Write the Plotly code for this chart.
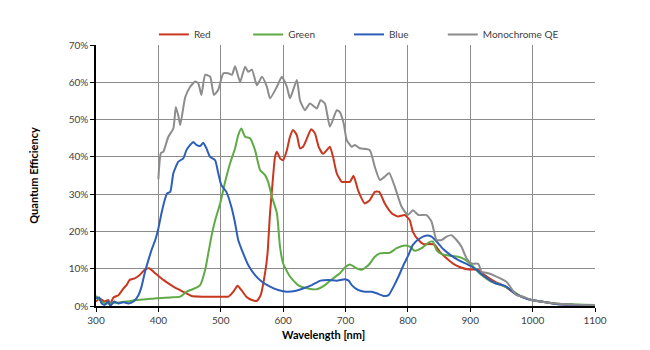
import plotly.graph_objects as go

# Monochrome QE
mono_wl = [400, 404, 408, 416, 424, 428, 432, 435, 443, 451, 459, 464, 469, 475, 483, 489, 496, 504, 512, 518, 523, 531, 539, 544, 550, 558, 566, 574, 579, 590, 598, 606, 611, 622, 627, 635, 643, 654, 660, 667, 675, 686, 691, 697, 702, 710, 715, 723, 739, 747, 755, 763, 770, 779, 790, 800, 808, 817, 830, 838, 846, 854, 862, 870, 878, 886, 894, 902, 913, 918, 929, 942, 958, 966, 974, 985, 998, 1025, 1052, 1100]
mono_qe = [34, 41, 41.4, 45.4, 47.6, 53.4, 51, 48.5, 56, 58.8, 60.2, 59.7, 56.6, 62, 61.5, 56.6, 58, 62.4, 62.4, 62, 64.3, 60.1, 64.2, 62.8, 63.4, 59.2, 61.5, 58.8, 55.7, 58.8, 61.5, 58.8, 55.7, 60.6, 55.2, 52.5, 54.3, 53, 55.2, 54.3, 48.1, 52.5, 52, 49, 44.5, 42.7, 43.2, 42.3, 41.8, 37.3, 33.8, 34.7, 35.7, 32, 26.6, 24.4, 25.7, 24.4, 24.4, 22.6, 17.7, 17.7, 18.6, 19, 17.7, 15.9, 12.8, 11.4, 11.3, 9.2, 8.8, 7.9, 6.5, 4.7, 2.9, 2.5, 1.6, 0.9, 0.5, 0.2]

red_wl = [300, 306, 314, 320, 322, 328, 336, 344, 349, 354, 362, 370, 378, 385, 395, 408, 424, 440, 453, 472, 499, 512, 520, 527, 533, 541, 550, 558, 564, 571, 575, 579, 583, 587, 590, 595, 600, 606, 611, 616, 622, 627, 632, 638, 645, 651, 657, 664, 670, 675, 680, 686, 694, 699, 707, 713, 720, 731, 739, 747, 754, 763, 774, 784, 795, 803, 808, 817, 825, 835, 843, 851, 862, 873, 884, 897, 913, 923, 940, 956, 971, 985, 998, 1014, 1041, 1068, 1100]
red_qe = [1.2, 2, 1.2, 1.6, 0.3, 2.3, 2.9, 4.7, 5.6, 7, 7.4, 8.3, 9.7, 10.1, 8.8, 7, 5.2, 3.8, 2.7, 2.5, 2.5, 2.5, 3.8, 5.4, 4.3, 2.5, 1.6, 1.4, 2.9, 8.8, 14.1, 24.9, 32.9, 40, 41.4, 39.6, 39.1, 41.8, 45.4, 47.2, 45.8, 42.3, 42.7, 44.9, 47.4, 46.3, 42.7, 40.8, 41.8, 42.7, 40, 35.6, 33.3, 33.3, 33.3, 34.9, 31.1, 27.5, 28.4, 30.6, 30.6, 27.5, 24.9, 24, 24.4, 23, 19.9, 17.7, 16.6, 16.6, 16.4, 14.6, 12.8, 11.3, 10.4, 9.8, 9.7, 8.3, 6.5, 5.2, 3.4, 2.3, 1.6, 1.2, 0.5, 0.3, 0.1]

green_wl = [300, 306, 314, 322, 333, 349, 365, 381, 397, 419, 435, 445, 461, 467, 475, 480, 485, 491, 499, 507, 515, 523, 528, 533, 539, 547, 555, 563, 571, 576, 582, 590, 595, 600, 611, 624, 640, 654, 667, 680, 691, 699, 707, 718, 726, 737, 747, 755, 771, 782, 795, 803, 811, 822, 833, 840, 846, 854, 867, 881, 891, 902, 918, 934, 950, 966, 982, 998, 1014, 1041, 1068, 1100]
green_qe = [2.7, 1.6, 0.7, 0.7, 0.9, 1.2, 1.6, 1.8, 2.1, 2.3, 2.5, 3.8, 4.9, 5.6, 9.7, 14.1, 18.6, 23, 27.5, 33.3, 38.3, 42.3, 45.8, 47.6, 45.4, 45, 41.8, 36.5, 35.1, 33.3, 29.3, 24.9, 15.9, 11.4, 7.9, 5.6, 4.7, 4.5, 5.6, 7.4, 8.8, 10.3, 11.1, 10.1, 9.7, 11, 13.2, 14.1, 14.3, 15.5, 16.2, 15.9, 14.8, 15.5, 17, 17.3, 15, 13.9, 13.5, 13.2, 12.5, 11, 8.3, 6.5, 5.6, 4.3, 2.5, 1.6, 1.2, 0.6, 0.4, 0.3]

blue_wl = [300, 305, 309, 314, 320, 323, 329, 336, 344, 352, 360, 368, 373, 378, 384, 389, 395, 400, 405, 411, 414, 419, 424, 432, 440, 445, 451, 456, 461, 467, 472, 477, 483, 491, 496, 501, 509, 517, 523, 528, 536, 544, 555, 566, 579, 592, 606, 619, 632, 646, 660, 672, 686, 699, 705, 710, 720, 731, 742, 750, 761, 769, 777, 785, 793, 801, 808, 819, 830, 838, 846, 857, 868, 881, 894, 907, 923, 940, 956, 971, 993, 1014, 1041, 1068, 1100]
blue_qe = [2, 2.3, 0.7, 0.3, 1.2, 0, 1.2, 0.7, 1, 0.7, 1.2, 2.9, 5.2, 8.8, 12.3, 15, 17.7, 20.8, 24.9, 28.9, 30.2, 30.6, 35.6, 38.7, 39.6, 41.8, 43.2, 44, 43.2, 42.9, 43.8, 42.3, 40, 39.1, 35.6, 32.4, 30.6, 26.6, 22.2, 17.7, 14.1, 11, 8.3, 6.5, 5.2, 4.3, 3.8, 4, 4.7, 5.6, 6.8, 7, 6.8, 7.2, 6.8, 5.6, 4.3, 3.8, 3.8, 3.4, 2.7, 2.9, 5.2, 7.9, 11, 13.7, 16.4, 18.1, 18.9, 18.6, 17.3, 15.2, 13.7, 12.3, 11.3, 10.1, 7.9, 6.1, 5.4, 3.4, 1.8, 1.2, 0.5, 0.3, 0.1]

x_ticks = [300, 400, 500, 600, 700, 800, 900, 1000, 1100]
y_ticks = [0, 10, 20, 30, 40, 50, 60, 70]

FONT = "Lato"
series = [
    ("Red", red_wl, red_qe, "rgb(200,55,30)", "legend", 0.116),
    ("Green", green_wl, green_qe, "rgb(95,170,70)", "legend2", 0.305),
    ("Blue", blue_wl, blue_qe, "rgb(45,95,185)", "legend3", 0.507),
    ("Monochrome QE", mono_wl, mono_qe, "rgb(140,140,140)", "legend4", 0.695),
]

fig = go.Figure()
legends = {}
for name, xs, ys, col, lg, lx in series:
    fig.add_trace(go.Scatter(
        x=xs, y=[v / 100 for v in ys], name=name, mode="lines", legend=lg,
        line=dict(color=col, width=2, shape="spline", smoothing=0.5),
    ))
    legends[lg] = dict(orientation="h", x=lx, y=0.985, xanchor="left", yanchor="bottom",
                       itemwidth=30, font=dict(family=FONT, size=10, color="#404040"),
                       bgcolor="rgba(0,0,0,0)")

fig.update_layout(
    width=650, height=350,
    margin=dict(l=96, r=55, t=45, b=44, autoexpand=False),
    paper_bgcolor="white", plot_bgcolor="white",
    font=dict(family=FONT, size=10, color="#404040"),
    showlegend=True,
    annotations=[
        dict(text="<b>Wavelength [nm]</b>", xref="paper", yref="paper",
             x=0.455, y=-0.075, xanchor="center", yanchor="top", showarrow=False,
             font=dict(family=FONT, size=11, color="black")),
    ],
    **legends,
)
fig.update_xaxes(
    range=[300, 1100], tickvals=x_ticks, ticktext=[str(v) for v in x_ticks],
    showgrid=True, gridcolor="#8c8c8c", gridwidth=1,
    showline=True, linecolor="black", linewidth=1.5,
    ticks="outside", ticklen=4, tickcolor="black",
    zeroline=False,
)
fig.update_yaxes(
    range=[0, 0.70], tickvals=[v / 100 for v in y_ticks], ticktext=[f"{v}%" for v in y_ticks],
    showgrid=True, gridcolor="#8c8c8c", gridwidth=1,
    showline=True, linecolor="black", linewidth=1.5,
    ticks="outside", ticklen=4, tickcolor="black",
    title=dict(text="<b>Quantum Efficiency</b>", font=dict(family=FONT, size=11, color="black"), standoff=28),
    zeroline=False,
)

fig.write_html("out.html")
